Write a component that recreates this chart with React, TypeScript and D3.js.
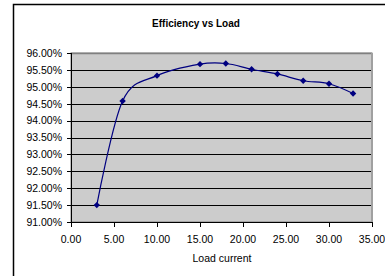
import React from "react";
import * as d3 from "d3";

const loads = [3, 6, 10, 15, 18, 21, 24, 27, 30, 32.8];
const efficiency = [91.5, 94.58, 95.33, 95.67, 95.69, 95.52, 95.38, 95.18, 95.09, 94.8];
const xTicks = [0, 5, 10, 15, 20, 25, 30, 35];
const yTicks = [91, 91.5, 92, 92.5, 93, 93.5, 94, 94.5, 95, 95.5, 96];
const title = "Efficiency vs Load";
const xTitle = "Load current";

export default function App() {
  const W = 385, H = 276;
  const left = 71, right = 372, top = 53, bottom = 222;
  const x = d3.scaleLinear().domain([0, 35]).range([left, right]);
  const y = d3.scaleLinear().domain([91, 96]).range([bottom, top]);
  const pts = loads.map((l, i) => [x(l), y(efficiency[i])] as [number, number]);
  const line = d3.line().curve(d3.curveCatmullRom.alpha(0))(pts) || "";
  const font = "Arial, 'Liberation Sans', sans-serif";
  return (
    <svg width={W} height={H} style={{ position: "absolute", left: 0, top: 0 }}>
      <rect x={0} y={0} width={W} height={H} fill="#fff" />
      <rect x={13.5} y={4.5} width={W} height={H} fill="#fff" stroke="#000" strokeWidth={1.5} />
      <text x={196} y={27} textAnchor="middle" fontFamily={font} fontSize={10} fontWeight="bold">{title}</text>
      <rect x={left} y={top} width={right - left} height={bottom - top} fill="#cccccc" stroke="#808080" strokeWidth={1} />
      {yTicks.map((t) => (
        <g key={t}>
          {t !== 91 && t !== 96 && (
            <line x1={left} x2={right} y1={Math.round(y(t)) + 0.5} y2={Math.round(y(t)) + 0.5} stroke="#000" strokeWidth={1} />
          )}
          <line x1={left - 4} x2={left} y1={Math.round(y(t)) + 0.5} y2={Math.round(y(t)) + 0.5} stroke="#000" />
          <text x={62} y={y(t) + 3.8} textAnchor="end" fontFamily={font} fontSize={10.5}>{t.toFixed(2) + "%"}</text>
        </g>
      ))}
      <line x1={left} x2={right} y1={Math.round(top) + 0.5} y2={Math.round(top) + 0.5} stroke="#808080" strokeWidth={1.5} />
      <line x1={right} x2={right} y1={top} y2={bottom} stroke="#a0a0a0" strokeWidth={2} />
      <line x1={left + 0.5} x2={left + 0.5} y1={top} y2={bottom + 0.5} stroke="#000" />
      <line x1={left} x2={right} y1={bottom + 0.5} y2={bottom + 0.5} stroke="#000" />
      {xTicks.map((t) => (
        <g key={t}>
          <line x1={Math.round(x(t)) + 0.5} x2={Math.round(x(t)) + 0.5} y1={bottom} y2={bottom + 5} stroke="#000" />
          <text x={x(t)} y={243} textAnchor="middle" fontFamily={font} fontSize={10.5}>{t.toFixed(2)}</text>
        </g>
      ))}
      <text x={222} y={262} textAnchor="middle" fontFamily={font} fontSize={10.5}>{xTitle}</text>
      <path d={line} fill="none" stroke="#000080" strokeWidth={1.2} />
      {pts.map(([px, py], i) => (
        <path key={i} d={`M${px},${py - 3.2}L${px + 3.2},${py}L${px},${py + 3.2}L${px - 3.2},${py}Z`} fill="#000080" />
      ))}
    </svg>
  );
}
